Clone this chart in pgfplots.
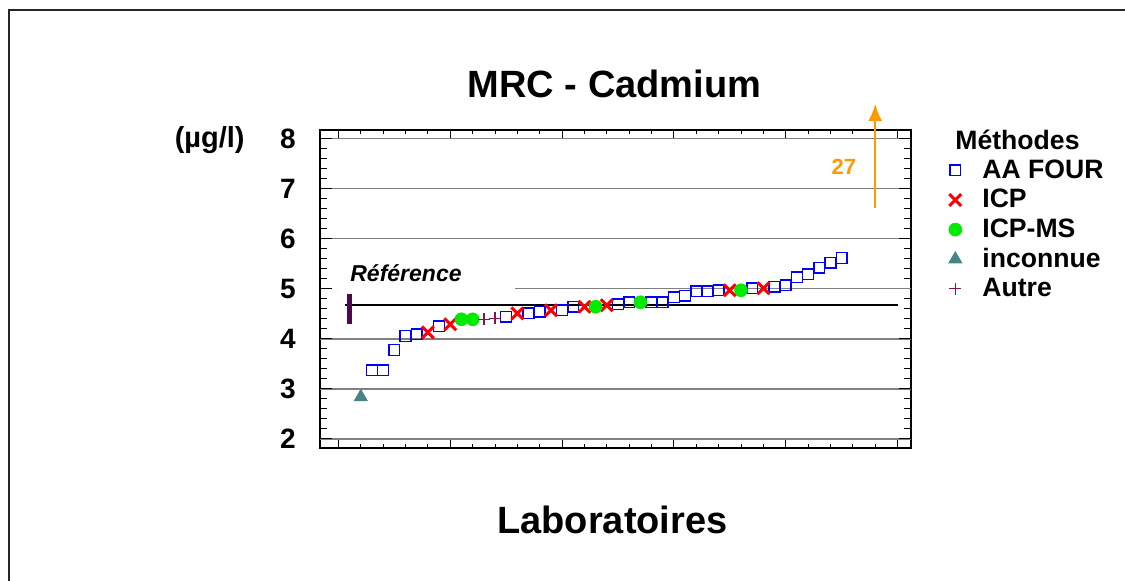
\documentclass[border=0pt]{standalone}
\usepackage{pgfplots}
\pgfplotsset{compat=1.18}
\usepackage{fontspec}
\setmainfont{Liberation Sans}
\usetikzlibrary{arrows.meta}

\definecolor{aablue}{RGB}{0,0,255}
\definecolor{icpred}{RGB}{255,0,0}
\definecolor{msgreen}{RGB}{0,235,0}
\definecolor{unkteal}{RGB}{72,132,135}
\definecolor{autremag}{RGB}{130,20,80}
\definecolor{refpurple}{RGB}{75,10,75}
\definecolor{outorange}{RGB}{255,153,0}

\begin{document}
\begin{tikzpicture}
% page = 1125 x 580 px, 1 px = 0.5pt
\useasboundingbox (0,0) rectangle (562.5pt,290pt);
\draw[line width=1pt, black!85] (4.5pt,-10pt) -- (4.5pt,285pt) -- (570pt,285pt);

\begin{axis}[
    at={(160pt,66pt)}, anchor=south west,
    scale only axis, width=295.5pt, height=159pt,
    xmin=-1.65, xmax=51.2,
    ymin=1.82, ymax=8.17,
    xtick={0,10,...,50}, xticklabels={},
    minor x tick num=4,
    ytick={2,...,8},
    minor y tick num=4,
    tick align=inside,
    axis line style={line width=1pt},
    every tick/.style={black, line width=0.5pt},
    xtick style={/pgfplots/major tick length=4pt},
    minor x tick style={/pgfplots/minor tick length=2pt},
    ytick style={/pgfplots/major tick length=6pt},
    minor y tick style={/pgfplots/minor tick length=3.3pt},
    extra y ticks={2,3,4,6,7,8},
    extra y tick labels={},
    extra y tick style={grid=major, /pgfplots/major tick length=0pt},
    major grid style={gray, line width=0.75pt},
    /pgf/number format/assume math mode=true,
    yticklabel style={font=\fontsize{14}{14}\selectfont\bfseries, inner sep=0pt, xshift=-12pt},
    clip=false,
    legend cell align=left,
    legend style={at={(axis description cs:1.0635,0.9208)}, anchor=north west,
        draw=none, fill=none, inner sep=0pt, column sep=8.9pt,
        font=\fontsize{13.3}{15}\selectfont\bfseries,
        nodes={text height=10pt, text depth=2pt, inner sep=1.4pt}},
]
  % grid line at 5, hidden on the left behind the label
  \draw[gray, line width=0.75pt] (axis cs:15.77,5) -- (axis cs:51.2,5);

  % reference value and its bar
  \addplot[black, line width=0.8pt, forget plot] coordinates {(0.58,4.67)(50,4.67)};
  \addplot[refpurple, line width=2.3pt, forget plot] coordinates {(1,4.30)(1,4.89)};

  \addplot[only marks, mark=square, mark size=2.7pt, color=aablue, mark options={line width=0.7pt}]
    coordinates {(3,3.37)(4,3.37)(5,3.78)(6,4.06)(7,4.09)(9,4.25)(15,4.44)(17,4.51)
      (18,4.54)(20,4.57)(21,4.64)(25,4.69)(26,4.73)(28,4.73)(29,4.73)(30,4.83)
      (31,4.86)(32,4.95)(33,4.95)(34,4.97)(37,5.01)(39,5.04)(40,5.07)(41,5.23)
      (42,5.29)(43,5.42)(44,5.52)(45,5.61)};
  \addlegendentry{AA FOUR}

  \addplot[only marks, mark=x, mark size=4.2pt, color=icpred, mark options={line width=1.5pt}]
    coordinates {(8,4.13)(10,4.29)(16,4.51)(19,4.57)(22,4.64)(24,4.67)(35,4.97)(38,5.01)};
  \addlegendentry{ICP}

  \addplot[only marks, mark=*, mark size=3.2pt, color=msgreen]
    coordinates {(11,4.39)(12,4.39)(23,4.64)(27,4.73)(36,4.97)};
  \addlegendentry{ICP-MS}

  \addplot[only marks, mark=triangle*, mark size=3.7pt, color=unkteal]
    coordinates {(2,2.84)};
  \addlegendentry{inconnue}

  \addplot[only marks, mark=+, mark size=3pt, color=autremag, mark options={line width=0.7pt}]
    coordinates {(13,4.39)(14,4.41)};
  \addlegendentry{Autre}

  % outlier (27) above the scale
  \addplot[outorange, line width=1pt, -{Latex[length=8.5pt,width=7pt]}, forget plot]
    coordinates {(48,6.61)(48,8.69)};
  \node[text=outorange, inner sep=0pt, font=\fontsize{11}{12}\selectfont\bfseries]
    at (axis cs:45.2,7.44) {27};

  \node[anchor=west, inner sep=0pt, font=\fontsize{11.5}{12}\selectfont\bfseries\itshape]
    at (axis cs:1.03,5.31) {Référence};

  \node[anchor=west, inner sep=0pt, font=\fontsize{13.3}{15}\selectfont\bfseries]
    at (axis description cs:1.0745,0.9686) {Méthodes};
\end{axis}

\node[anchor=base, font=\fontsize{19}{20}\selectfont\bfseries] at (307.25pt,241.5pt) {MRC - Cadmium};
\node[anchor=base, font=\fontsize{19}{20}\selectfont\bfseries] at (306.25pt,23.5pt) {Laboratoires};
\node[anchor=east, inner sep=0pt, font=\fontsize{14.5}{15}\selectfont\bfseries] at (122.5pt,220pt) {(µg/l)};
\end{tikzpicture}
\end{document}
